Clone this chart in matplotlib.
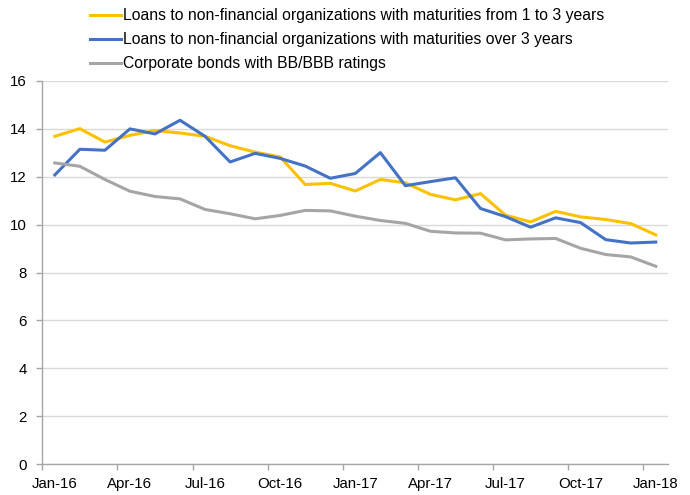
import matplotlib
matplotlib.use("Agg")
import matplotlib.pyplot as plt

plt.rcParams['font.family'] = ['Liberation Sans', 'DejaVu Sans']

# monthly values, Jan-16 .. Jan-18
months = ['Jan-16', 'Feb-16', 'Mar-16', 'Apr-16', 'May-16', 'Jun-16', 'Jul-16', 'Aug-16',
          'Sep-16', 'Oct-16', 'Nov-16', 'Dec-16', 'Jan-17', 'Feb-17', 'Mar-17', 'Apr-17',
          'May-17', 'Jun-17', 'Jul-17', 'Aug-17', 'Sep-17', 'Oct-17', 'Nov-17', 'Dec-17', 'Jan-18']
loans_1_3 = [13.68, 14.00, 13.44, 13.72, 13.92, 13.82, 13.68, 13.29, 13.02, 12.82, 11.67, 11.72, 11.40,
             11.88, 11.74, 11.26, 11.03, 11.29, 10.39, 10.11, 10.55, 10.32, 10.21, 10.04, 9.57]
loans_3plus = [12.07, 13.14, 13.10, 13.99, 13.78, 14.35, 13.68, 12.61, 12.97, 12.76, 12.44, 11.93, 12.13,
               13.00, 11.62, 11.79, 11.95, 10.67, 10.33, 9.89, 10.28, 10.08, 9.37, 9.23, 9.27]
bonds = [12.57, 12.43, 11.88, 11.39, 11.17, 11.07, 10.63, 10.45, 10.24, 10.38, 10.59, 10.57, 10.35,
         10.17, 10.05, 9.72, 9.65, 9.64, 9.36, 9.40, 9.42, 9.01, 8.75, 8.65, 8.26]

labels = ['Loans to non-financial organizations with maturities from 1 to 3 years',
          'Loans to non-financial organizations with maturities over 3 years',
          'Corporate bonds with BB/BBB ratings']

x = list(range(len(months)))

fig = plt.figure(figsize=(6.9, 4.95), dpi=100)
ax = fig.add_axes([42.3 / 690, 1 - 464.3 / 495, (668.3 - 42.3) / 690, (464.3 - 80.7) / 495])

ax.plot(x, loans_1_3, color='#FFC000', lw=2.2, label=labels[0], zorder=3)
ax.plot(x, loans_3plus, color='#4472C4', lw=2.2, label=labels[1], zorder=4)
ax.plot(x, bonds, color='#A5A5A5', lw=2.2, label=labels[2], zorder=5)

ax.set_xlim(-0.5, len(months) - 0.5)
ax.set_ylim(0, 16)
ax.set_yticks(range(0, 17, 2))
ax.grid(axis='y', color='#D9D9D9', lw=1)
ax.set_axisbelow(True)

# labels on every third month, tick marks between categories
ax.set_xticks(x[::3])
ax.set_xticklabels(months[::3])
ax.set_xticks([i - 0.5 for i in x[::3]], minor=True)
ax.tick_params(axis='x', which='major', length=0, pad=9, labelsize=10.8)
ax.tick_params(axis='x', which='minor', length=4, color='#A6A6A6', width=1)
ax.tick_params(axis='y', length=4, color='#A6A6A6', width=1, pad=7, labelsize=10.8)

for s in ['top', 'right']:
    ax.spines[s].set_visible(False)
for s in ['left', 'bottom']:
    ax.spines[s].set_color('#A6A6A6')
    ax.spines[s].set_linewidth(1)

fig.legend(loc='upper left', bbox_to_anchor=(90 / 690, 1 - 8 / 495), frameon=False,
           fontsize=11.3, handlelength=1.95, handletextpad=0.17, labelspacing=0.58,
           borderaxespad=0, borderpad=0)

fig.savefig('out.png', dpi=100)
